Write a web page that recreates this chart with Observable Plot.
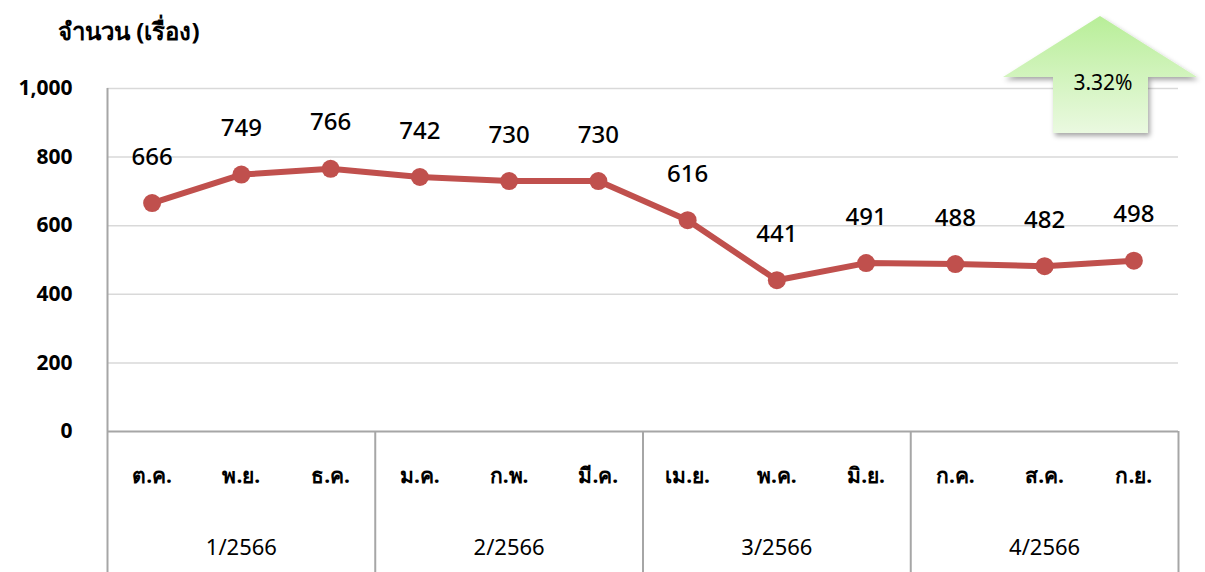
<!DOCTYPE html>
<html>
<head>
<meta charset="utf-8">
<script src="https://cdn.jsdelivr.net/npm/d3@7"></script>
<script src="https://cdn.jsdelivr.net/npm/@observablehq/plot@0.6"></script>
<style>
  html, body { margin: 0; padding: 0; background: #fff; }
  #chart { position: relative; width: 1205px; height: 572px; overflow: hidden; }
  svg { font-family: Tahoma, "Noto Sans", "DejaVu Sans", sans-serif; }
</style>
</head>
<body>
<div id="chart"></div>
<script>
const months = ["ต.ค.", "พ.ย.", "ธ.ค.", "ม.ค.", "ก.พ.", "มี.ค.", "เม.ย.", "พ.ค.", "มิ.ย.", "ก.ค.", "ส.ค.", "ก.ย."];
const values = [666, 749, 766, 742, 730, 730, 616, 441, 491, 488, 482, 498];
const quarters = ["1/2566", "2/2566", "3/2566", "4/2566"];
const yTicks = [0, 200, 400, 600, 800, 1000];
const yTitle = "จำนวน (เรื่อง)";
const changeLabel = "3.32%";

const data = months.map((m, i) => ({i, month: m, value: values[i]}));
const qData = quarters.map((q, k) => ({q, x: k * 3 + 1}));
const separators = [-0.5, 2.5, 5.5, 8.5, 11.5];

const fontFam = 'Tahoma, "Noto Sans", "DejaVu Sans", sans-serif';

const chart = Plot.plot({
  width: 1205,
  height: 572,
  marginLeft: 107,
  marginRight: 27,
  marginTop: 88,
  marginBottom: 141,
  style: {fontFamily: fontFam, background: "#fff", overflow: "visible"},
  x: {domain: [-0.5, 11.5], axis: null},
  y: {domain: [0, 1000], axis: null},
  marks: [
    Plot.ruleY(yTicks.filter(d => d > 0), {stroke: "#d9d9d9", strokeWidth: 1.5}),
    Plot.ruleY([0], {stroke: "#a6a6a6", strokeWidth: 2}),
    Plot.ruleX([-0.5], {y1: 0, y2: 1000, stroke: "#a6a6a6", strokeWidth: 2}),
    Plot.ruleX(separators, {x: d => d, y1: 0, y2: -420, stroke: "#a6a6a6", strokeWidth: 2, clip: false}),
    Plot.axisY(yTicks, {tickSize: 0, tickPadding: 0, dx: -35, fontSize: 21, fill: "#000", fontWeight: "bold", tickFormat: d3.format(","), anchor: "left", label: null}),
    Plot.axisX(d3.range(12), {tickSize: 0, tickFormat: i => months[i], fontSize: 21, fontWeight: "bold", fill: "#000", tickPadding: 37, anchor: "bottom", label: null}),
    Plot.text(qData, {x: "x", text: "q", frameAnchor: "bottom", dy: 123, fontSize: 22, fill: "#000", clip: false}),
    Plot.line(data, {x: "i", y: "value", stroke: "#c0504d", strokeWidth: 6, strokeLinejoin: "round"}),
    Plot.dot(data, {x: "i", y: "value", r: 9, fill: "#c0504d", stroke: "none"}),
    Plot.text(data, {x: "i", y: "value", text: d => String(d.value), dy: -46, fontSize: 24, fontWeight: 500, fill: "#000"})
  ]
});
document.getElementById("chart").appendChild(chart);

const svg = d3.select(chart);
// Y axis title
svg.append("text")
  .attr("x", 58).attr("y", 33)
  .attr("text-anchor", "start")
  .attr("dominant-baseline", "middle")
  .attr("font-size", 24).attr("font-weight", "bold").attr("fill", "#000")
  .text(yTitle);

// Up-arrow annotation
const defs = svg.append("defs");
const grad = defs.append("linearGradient").attr("id", "arrowGrad").attr("x1", 0).attr("y1", 0).attr("x2", 0).attr("y2", 1);
grad.append("stop").attr("offset", "0%").attr("stop-color", "#b8ee98");
grad.append("stop").attr("offset", "100%").attr("stop-color", "#eaf9e0");
const filt = defs.append("filter").attr("id", "arrowShadow").attr("x", "-20%").attr("y", "-20%").attr("width", "150%").attr("height", "150%");
filt.append("feDropShadow").attr("dx", 2).attr("dy", 3).attr("stdDeviation", 2.5).attr("flood-color", "#000").attr("flood-opacity", 0.35);
const pts = [[1100, 16], [1197, 77], [1148, 77], [1148, 133], [1053, 133], [1053, 77], [1003, 77]];
svg.append("path")
  .attr("d", "M" + pts.map(p => p.join(",")).join("L") + "Z")
  .attr("fill", "url(#arrowGrad)")
  .attr("filter", "url(#arrowShadow)");
svg.append("text")
  .attr("x", 1103).attr("y", 84)
  .attr("text-anchor", "middle").attr("dominant-baseline", "middle")
  .attr("font-size", 21).attr("fill", "#000")
  .text(changeLabel);
</script>
</body>
</html>
